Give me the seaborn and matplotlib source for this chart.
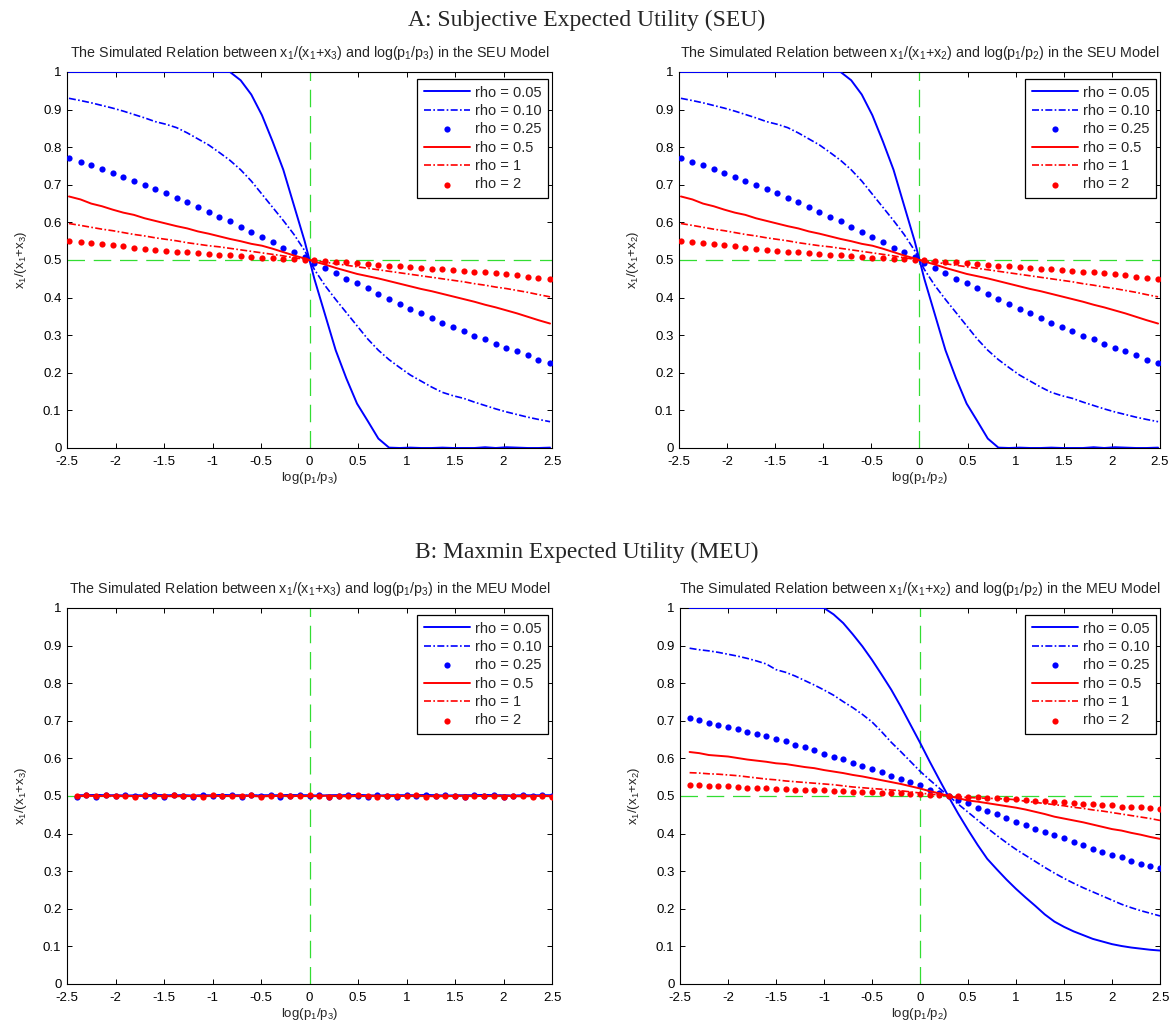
import numpy as np
import pandas as pd
import matplotlib
matplotlib.use("Agg")
import matplotlib.pyplot as plt
import seaborn as sns

# ---- data ----
# x grid of the SEU panels (panel A)
x_seu = [-2.48, -2.36, -2.25, -2.14, -2.03, -1.92, -1.81, -1.70, -1.59, -1.48, -1.37, -1.26,
         -1.15, -1.04, -0.93, -0.82, -0.71, -0.60, -0.49, -0.38, -0.27, -0.16, -0.05,
         0.05, 0.16, 0.27, 0.38, 0.49, 0.60, 0.71, 0.82, 0.93, 1.04, 1.15, 1.26, 1.37,
         1.48, 1.59, 1.70, 1.81, 1.92, 2.03, 2.14, 2.25, 2.36, 2.48]

seu_005 = [1.0, 1.0, 1.0, 1.0, 1.0, 1.0, 1.0, 1.0, 1.0, 1.0, 1.0, 1.0, 1.0, 1.0, 1.0, 1.0,
           0.978, 0.94, 0.885, 0.815, 0.74, 0.645, 0.55,
           0.45, 0.355, 0.26, 0.185, 0.118, 0.072, 0.025, 0.001,
           0.0, 0.001, 0.0, 0.0, 0.001, 0.0, 0.0, 0.0, 0.002, 0.0, 0.002, 0.001, 0.0, 0.0, 0.001]
seu_010 = [0.93, 0.924, 0.918, 0.911, 0.904, 0.896, 0.887, 0.878, 0.868, 0.861, 0.852, 0.838,
           0.822, 0.806, 0.786, 0.765, 0.74, 0.71, 0.675, 0.64, 0.605, 0.568, 0.525,
           0.475, 0.432, 0.395, 0.36, 0.325, 0.29, 0.26, 0.235, 0.214, 0.194, 0.178, 0.162,
           0.148, 0.139, 0.132, 0.122, 0.113, 0.104, 0.096, 0.089, 0.082, 0.076, 0.07]
seu_025 = [0.770, 0.761, 0.752, 0.742, 0.732, 0.720, 0.711, 0.700, 0.689, 0.677, 0.665, 0.653,
           0.642, 0.627, 0.615, 0.603, 0.589, 0.574, 0.562, 0.547, 0.532, 0.520, 0.509,
           0.493, 0.480, 0.465, 0.450, 0.439, 0.425, 0.409, 0.397, 0.383, 0.371, 0.359, 0.345,
           0.332, 0.321, 0.310, 0.297, 0.289, 0.277, 0.266, 0.257, 0.247, 0.235, 0.226]
seu_05 = [0.669, 0.661, 0.650, 0.643, 0.634, 0.626, 0.620, 0.611, 0.604, 0.597, 0.590, 0.584,
          0.576, 0.570, 0.563, 0.556, 0.550, 0.543, 0.538, 0.530, 0.521, 0.512, 0.504,
          0.496, 0.488, 0.479, 0.471, 0.463, 0.457, 0.451, 0.444, 0.437, 0.430, 0.423, 0.417,
          0.410, 0.403, 0.396, 0.389, 0.381, 0.374, 0.366, 0.358, 0.349, 0.340, 0.331]
seu_1 = [0.597, 0.592, 0.587, 0.582, 0.578, 0.573, 0.568, 0.564, 0.559, 0.555, 0.551, 0.546,
         0.542, 0.538, 0.535, 0.531, 0.527, 0.523, 0.519, 0.515, 0.511, 0.506, 0.502,
         0.498, 0.494, 0.490, 0.486, 0.482, 0.478, 0.474, 0.470, 0.466, 0.462, 0.458, 0.454,
         0.450, 0.446, 0.442, 0.437, 0.433, 0.428, 0.424, 0.419, 0.414, 0.408, 0.402]
seu_2 = [0.551, 0.548, 0.544, 0.542, 0.539, 0.536, 0.533, 0.529, 0.527, 0.524, 0.521, 0.521,
         0.519, 0.516, 0.514, 0.512, 0.510, 0.508, 0.506, 0.505, 0.503, 0.502, 0.500,
         0.499, 0.497, 0.495, 0.494, 0.491, 0.489, 0.487, 0.485, 0.483, 0.481, 0.479, 0.477,
         0.475, 0.473, 0.471, 0.469, 0.467, 0.465, 0.462, 0.459, 0.456, 0.453, 0.450]

# x grid of the MEU panels (panel B)
x_meu = [-2.4, -2.3, -2.2, -2.1, -2.0, -1.9, -1.8, -1.7, -1.6, -1.5, -1.4, -1.3, -1.2, -1.1,
         -1.0, -0.9, -0.8, -0.7, -0.6, -0.5, -0.4, -0.3, -0.2, -0.1, 0.0, 0.1, 0.2, 0.3, 0.4,
         0.5, 0.6, 0.7, 0.8, 0.9, 1.0, 1.1, 1.2, 1.3, 1.4, 1.5, 1.6, 1.7, 1.8, 1.9, 2.0, 2.1,
         2.2, 2.3, 2.4, 2.5]

# MEU, x1/(x1+x3): flat at one half
meu3_005 = [0.502, 0.502, 0.503, 0.502, 0.502, 0.501, 0.502, 0.502, 0.503, 0.502, 0.502, 0.502,
            0.501, 0.502, 0.502, 0.503, 0.502, 0.502, 0.501, 0.502, 0.502, 0.502, 0.503, 0.502,
            0.502, 0.501, 0.502, 0.502, 0.502, 0.503, 0.502, 0.501, 0.502, 0.502, 0.502, 0.502,
            0.503, 0.502, 0.501, 0.502, 0.502, 0.502, 0.503, 0.502, 0.502, 0.501, 0.502, 0.502,
            0.502, 0.502]
meu3_010 = [0.501, 0.501, 0.502, 0.501, 0.501, 0.501, 0.500, 0.501, 0.501, 0.502, 0.501, 0.501,
            0.501, 0.501, 0.500, 0.501, 0.501, 0.501, 0.502, 0.501, 0.501, 0.501, 0.500, 0.501,
            0.501, 0.501, 0.501, 0.502, 0.501, 0.501, 0.500, 0.501, 0.501, 0.501, 0.501, 0.501,
            0.502, 0.501, 0.501, 0.500, 0.501, 0.501, 0.501, 0.502, 0.501, 0.501, 0.501, 0.500,
            0.501, 0.501]
meu3_025 = [0.498, 0.502, 0.497, 0.502, 0.500, 0.503, 0.499, 0.501, 0.502, 0.498, 0.503, 0.500,
            0.497, 0.502, 0.501, 0.499, 0.503, 0.498, 0.502, 0.500, 0.502, 0.497, 0.501, 0.503,
            0.499, 0.502, 0.498, 0.501, 0.503, 0.500, 0.497, 0.502, 0.501, 0.498, 0.503, 0.500,
            0.502, 0.499, 0.503, 0.501, 0.497, 0.502, 0.500, 0.503, 0.498, 0.501, 0.502, 0.499,
            0.503, 0.501]
meu3_05 = [0.500, 0.501, 0.500, 0.500, 0.501, 0.500, 0.500, 0.500, 0.501, 0.500, 0.499, 0.500,
           0.500, 0.501, 0.500, 0.500, 0.500, 0.501, 0.500, 0.499, 0.500, 0.500, 0.501, 0.500,
           0.500, 0.500, 0.501, 0.500, 0.499, 0.500, 0.500, 0.501, 0.500, 0.500, 0.500, 0.501,
           0.500, 0.499, 0.500, 0.500, 0.501, 0.500, 0.500, 0.500, 0.501, 0.500, 0.499, 0.500,
           0.500, 0.500]
meu3_1 = [0.500, 0.500, 0.501, 0.500, 0.500, 0.499, 0.500, 0.501, 0.500, 0.500, 0.500, 0.501,
          0.500, 0.499, 0.500, 0.500, 0.501, 0.500, 0.500, 0.500, 0.501, 0.500, 0.499, 0.500,
          0.500, 0.501, 0.500, 0.500, 0.500, 0.501, 0.500, 0.499, 0.500, 0.500, 0.501, 0.500,
          0.500, 0.500, 0.501, 0.500, 0.499, 0.500, 0.500, 0.501, 0.500, 0.500, 0.500, 0.501,
          0.500, 0.499]
meu3_2 = [0.501, 0.502, 0.499, 0.502, 0.501, 0.500, 0.498, 0.502, 0.501, 0.499, 0.502, 0.500,
          0.501, 0.498, 0.502, 0.500, 0.499, 0.501, 0.502, 0.498, 0.500, 0.502, 0.499, 0.501,
          0.502, 0.500, 0.498, 0.501, 0.499, 0.502, 0.500, 0.498, 0.501, 0.499, 0.500, 0.502,
          0.498, 0.500, 0.499, 0.501, 0.498, 0.500, 0.499, 0.501, 0.498, 0.499, 0.500, 0.498,
          0.499, 0.498]

# MEU, x1/(x1+x2)
meu2_005 = [1.0, 1.0, 1.0, 1.0, 1.0, 1.0, 1.0, 1.0, 1.0, 1.0, 1.0, 1.0, 1.0, 1.0, 1.0,
            0.983, 0.96, 0.93, 0.898, 0.862, 0.823, 0.783, 0.738, 0.69, 0.642, 0.592, 0.544,
            0.497, 0.452, 0.41, 0.37, 0.333, 0.305, 0.278, 0.253, 0.23, 0.208, 0.185, 0.166,
            0.152, 0.14, 0.13, 0.12, 0.113, 0.106, 0.101, 0.097, 0.094, 0.091, 0.089]
meu2_010 = [0.893, 0.889, 0.886, 0.882, 0.877, 0.872, 0.866, 0.859, 0.851, 0.836, 0.829, 0.819,
            0.807, 0.795, 0.782, 0.768, 0.751, 0.735, 0.717, 0.697, 0.671, 0.643, 0.618, 0.592,
            0.566, 0.543, 0.521, 0.5, 0.478, 0.457, 0.436, 0.415, 0.395, 0.376, 0.358, 0.342,
            0.326, 0.31, 0.295, 0.281, 0.268, 0.256, 0.245, 0.234, 0.223, 0.212, 0.203, 0.195,
            0.188, 0.181]
meu2_025 = [0.707, 0.701, 0.694, 0.689, 0.683, 0.677, 0.671, 0.665, 0.659, 0.651, 0.645, 0.636,
            0.630, 0.622, 0.613, 0.604, 0.599, 0.589, 0.581, 0.572, 0.563, 0.553, 0.544, 0.536,
            0.528, 0.516, 0.508, 0.500, 0.490, 0.481, 0.469, 0.460, 0.451, 0.442, 0.432, 0.422,
            0.413, 0.405, 0.396, 0.387, 0.378, 0.369, 0.360, 0.352, 0.343, 0.337, 0.328, 0.320,
            0.313, 0.308]
meu2_05 = [0.617, 0.614, 0.609, 0.607, 0.605, 0.601, 0.597, 0.594, 0.591, 0.587, 0.585, 0.581,
           0.577, 0.574, 0.569, 0.565, 0.561, 0.556, 0.552, 0.547, 0.542, 0.537, 0.532, 0.526,
           0.520, 0.513, 0.507, 0.500, 0.494, 0.488, 0.485, 0.481, 0.477, 0.473, 0.469, 0.464,
           0.458, 0.452, 0.445, 0.440, 0.435, 0.430, 0.424, 0.418, 0.412, 0.408, 0.402, 0.397,
           0.391, 0.386]
meu2_1 = [0.562, 0.561, 0.559, 0.558, 0.556, 0.554, 0.551, 0.548, 0.545, 0.543, 0.540, 0.538,
          0.536, 0.534, 0.532, 0.530, 0.527, 0.524, 0.522, 0.520, 0.518, 0.516, 0.514, 0.511,
          0.508, 0.505, 0.503, 0.500, 0.498, 0.496, 0.495, 0.494, 0.493, 0.492, 0.490, 0.486,
          0.483, 0.480, 0.477, 0.474, 0.470, 0.467, 0.463, 0.460, 0.456, 0.452, 0.448, 0.444,
          0.440, 0.435]
meu2_2 = [0.530, 0.530, 0.527, 0.527, 0.526, 0.524, 0.522, 0.522, 0.521, 0.519, 0.519, 0.517,
          0.517, 0.515, 0.515, 0.513, 0.513, 0.511, 0.511, 0.510, 0.509, 0.508, 0.507, 0.505,
          0.504, 0.503, 0.502, 0.500, 0.499, 0.497, 0.497, 0.495, 0.494, 0.491, 0.491, 0.489,
          0.488, 0.487, 0.484, 0.484, 0.481, 0.480, 0.478, 0.477, 0.475, 0.472, 0.472, 0.470,
          0.468, 0.466]

rho_labels = ['rho = 0.05', 'rho = 0.10', 'rho = 0.25', 'rho = 0.5', 'rho = 1', 'rho = 2']
x_ticks = [-2.5, -2, -1.5, -1, -0.5, 0, 0.5, 1, 1.5, 2, 2.5]
x_ticklabels = ['-2.5', '-2', '-1.5', '-1', '-0.5', '0', '0.5', '1', '1.5', '2', '2.5']
y_ticks = [0, 0.1, 0.2, 0.3, 0.4, 0.5, 0.6, 0.7, 0.8, 0.9, 1]
y_ticklabels = ['0', '0.1', '0.2', '0.3', '0.4', '0.5', '0.6', '0.7', '0.8', '0.9', '1']

# ---- style ----
sns.set_style('ticks')
plt.rcParams['font.family'] = ['Liberation Sans', 'DejaVu Sans']
plt.rcParams['mathtext.fontset'] = 'custom'
plt.rcParams['mathtext.rm'] = 'Liberation Sans'
plt.rcParams['mathtext.it'] = 'Liberation Sans'
plt.rcParams['axes.linewidth'] = 0.8

BLUE = '#0000ff'
RED = '#ff0000'
GREEN = '#33dd33'
dashdot = (0, (4.2, 1.4, 1.0, 1.4))
# (colour, kind) for each rho
styles = [(BLUE, 'solid'), (BLUE, 'dashdot'), (BLUE, 'dots'),
          (RED, 'solid'), (RED, 'dashdot'), (RED, 'dots')]

W, H = 1174, 1031
fig = plt.figure(figsize=(W / 100, H / 100), dpi=100)


def pos(left, right, top, bottom):
    return [left / W, 1 - bottom / H, (right - left) / W, (bottom - top) / H]


def draw_panel(ax, x, series, k, model):
    # reference lines at 0.5 and 0
    ax.axhline(0.5, color=GREEN, lw=0.9, ls=(0, (14, 7)), zorder=1)
    ax.axvline(0, color=GREEN, lw=0.9, ls=(0, (14, 7)), zorder=1)
    df = pd.DataFrame({'x': x})
    for y, lab, (col, kind) in zip(series, rho_labels, styles):
        df['y'] = y
        if kind == 'dots':
            sns.scatterplot(data=df, x='x', y='y', ax=ax, color=col, s=20,
                            linewidth=0, label=lab, zorder=3)
        elif kind == 'dashdot':
            sns.lineplot(data=df, x='x', y='y', ax=ax, color=col, linewidth=1.2,
                         linestyle=dashdot, label=lab, zorder=3)
        else:
            sns.lineplot(data=df, x='x', y='y', ax=ax, color=col, linewidth=1.4,
                         label=lab, zorder=3)
    ax.set_xlim(-2.5, 2.5)
    ax.set_ylim(0, 1)
    ax.set_xticks(x_ticks)
    ax.set_xticklabels(x_ticklabels)
    ax.set_yticks(y_ticks)
    ax.set_yticklabels(y_ticklabels)
    ax.tick_params(direction='in', top=True, right=True, length=3.5, width=0.7,
                   labelsize=9.5, colors='black')
    ax.tick_params(axis='x', pad=6)
    ax.tick_params(axis='y', pad=4)
    for sp in ax.spines.values():
        sp.set_visible(True)
        sp.set_color('black')
    ax.set_xlabel('log(p$_1$/p$_%s$)' % k, fontsize=9.5, labelpad=1)
    ax.set_ylabel('x$_1$/(x$_1$+x$_%s$)' % k, fontsize=9.5, labelpad=10)
    ax.set_title('The Simulated Relation between x$_1$/(x$_1$+x$_%s$) and '
                 'log(p$_1$/p$_%s$) in the %s Model' % (k, k, model),
                 fontsize=10.3, pad=11)
    h, l = ax.get_legend_handles_labels()
    leg = ax.legend(h, l, loc='upper right', bbox_to_anchor=(1 - 4 / 484, 1 - 7 / 376),
                    borderaxespad=0, fontsize=10.5, frameon=True, fancybox=False,
                    framealpha=1, edgecolor='black', handlelength=3.2,
                    handletextpad=0.3, labelspacing=0.3, borderpad=0.45,
                    scatterpoints=1)
    leg.get_frame().set_linewidth(0.9)


seu = [seu_005, seu_010, seu_025, seu_05, seu_1, seu_2]
meu3 = [meu3_005, meu3_010, meu3_025, meu3_05, meu3_1, meu3_2]
meu2 = [meu2_005, meu2_010, meu2_025, meu2_05, meu2_1, meu2_2]

ax1 = fig.add_axes(pos(67, 552, 72, 448))
draw_panel(ax1, x_seu, seu, '3', 'SEU')
ax2 = fig.add_axes(pos(679, 1160, 72, 448))
draw_panel(ax2, x_seu, seu, '2', 'SEU')
ax3 = fig.add_axes(pos(67, 552, 608, 984))
draw_panel(ax3, x_meu, meu3, '3', 'MEU')
ax4 = fig.add_axes(pos(680, 1160, 608, 984))
draw_panel(ax4, x_meu, meu2, '2', 'MEU')

fig.text(0.5, 1 - 20 / H, 'A: Subjective Expected Utility (SEU)', ha='center', va='center',
         family='Liberation Serif', fontsize=17)
fig.text(0.5, 1 - 552 / H, 'B: Maxmin Expected Utility (MEU)', ha='center', va='center',
         family='Liberation Serif', fontsize=17)

fig.savefig('out.png', dpi=100, facecolor='white')
